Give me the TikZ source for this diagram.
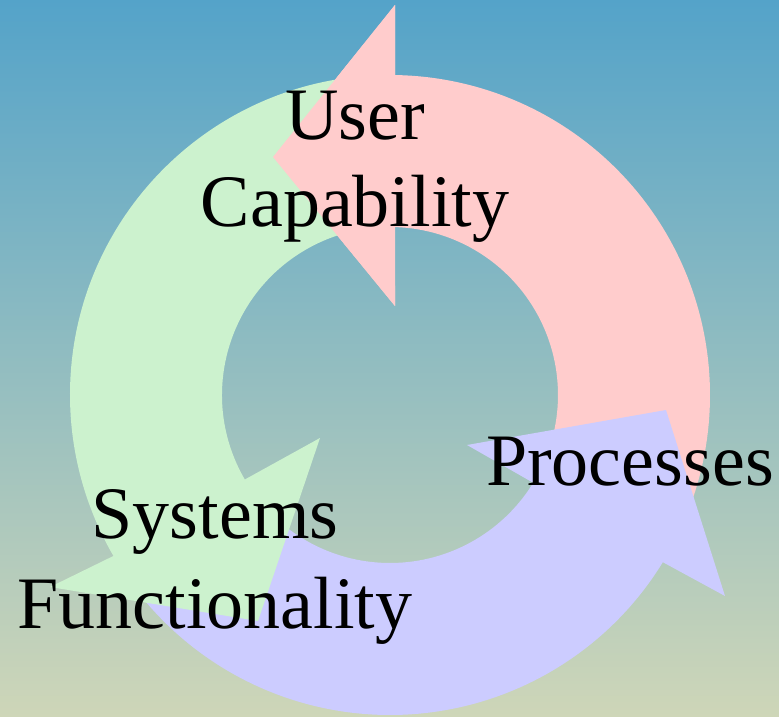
\documentclass[tikz,border=0pt]{standalone}
\usepackage{fontspec}
\setmainfont{Liberation Serif}
\usetikzlibrary{calc}
\definecolor{bgtop}{RGB}{84,163,201}
\definecolor{bgbot}{RGB}{206,214,184}
\definecolor{pinkc}{RGB}{255,204,204}
\definecolor{bluec}{RGB}{204,204,255}
\definecolor{greenc}{RGB}{204,242,206}
\tikzset{
  lbl/.style={inner sep=0pt, align=center, text=black, font=\fontsize{74}{#1}\selectfont},
  lbl/.default=88,
}
\begin{document}
\begin{tikzpicture}[x=1pt,y=1pt]
\useasboundingbox (0,0) rectangle (779,716);
\shade[top color=bgtop, bottom color=bgbot] (0,0) rectangle (779,716);
\coordinate (c) at (390,321);
% pink arrow (top-right)
\fill[pinkc] ($(c)+(-25:320)$) arc[start angle=-25,end angle=89.1,radius=320]
  -- (395,711) -- (273,559) -- (395,410) -- ($(c)+(88.3:168)$)
  arc[start angle=88.3,end angle=-25,radius=168] -- cycle;
% blue arrow (bottom)
\fill[bluec] ($(c)+(215:320)$) arc[start angle=215,end angle=328.5,radius=320]
  -- (725,120) -- (666,306) -- (467,271) -- ($(c)+(328.5:168)$)
  arc[start angle=328.5,end angle=215,radius=168] -- cycle;
% green arrow (left)
\fill[greenc] ($(c)+(92:320)$) arc[start angle=92,end angle=210.2,radius=320]
  -- (50,129) -- (258,95) -- (320,278) -- ($(c)+(210.2:168)$)
  arc[start angle=210.2,end angle=92,radius=168] -- cycle;
% pink head again, over the green tail
\fill[pinkc] (395,711) -- (273,559) -- (395,410) -- cycle;
% labels
\node[lbl=87, anchor=base] (uc) at (355,489) {User\\Capability};
\node[lbl, anchor=base west] (pr) at (486,231) {Processes};
\node[lbl=90, anchor=base] (sf) at (215,88) {Systems\\Functionality};
\end{tikzpicture}
\end{document}
